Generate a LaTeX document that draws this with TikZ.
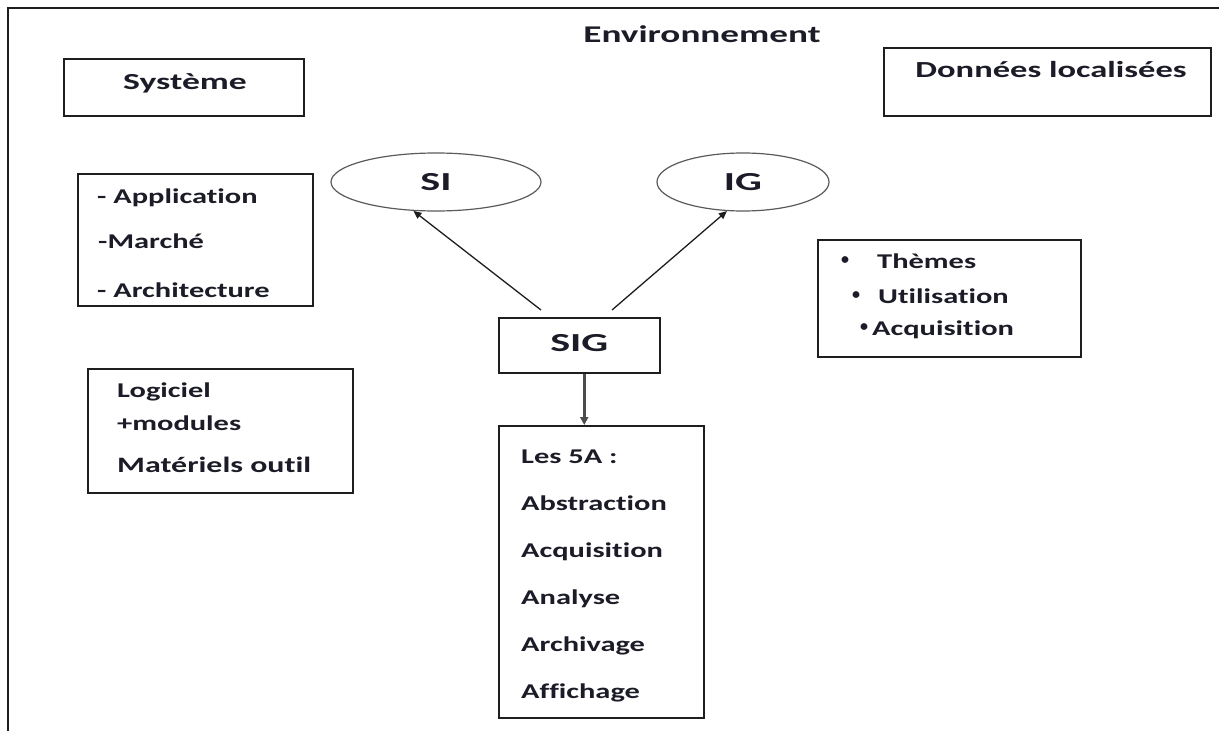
\documentclass[tikz,border=0pt]{standalone}
\usepackage{fontspec}
\usepackage{graphicx}
\setmainfont{Carlito}[Ligatures=NoCommon]
\usetikzlibrary{arrows.meta,shapes.geometric}
\definecolor{ink}{RGB}{28,28,40}
\definecolor{edge}{RGB}{30,30,30}
\definecolor{ell}{RGB}{90,90,90}
\newcommand{\wt}[1]{\scalebox{1.45}[1]{#1}}
\newcommand{\wh}[1]{\scalebox{1.55}[1]{#1}}
\newcommand{\wb}[1]{\scalebox{1.62}[1]{#1}}
\begin{document}
\begin{tikzpicture}[x=1pt,y=-1pt,
  box/.style={draw=edge, line width=1.5pt, inner sep=0pt, anchor=north west},
  txt/.style={inner sep=0pt, text=ink, font=\fontsize{21}{25}\selectfont\bfseries, anchor=base west},
  head/.style={inner sep=0pt, text=ink, font=\fontsize{23}{27}\selectfont\bfseries, anchor=base},
  big/.style={inner sep=0pt, text=ink, font=\fontsize{26}{30}\selectfont\bfseries},
  bul/.style={inner sep=0pt, text=ink, font=\fontsize{16}{18}\selectfont\bfseries},
  ellnode/.style={draw=ell, line width=1.2pt, ellipse, inner sep=0pt, minimum height=58pt},
  arr/.style={draw=edge, line width=1.3pt, -{Triangle[length=8pt,width=7pt]}},
  darr/.style={draw=black!70, line width=2.6pt, -{Triangle[length=8pt,width=8pt]}}
]
\useasboundingbox (0,0) rectangle (1219,731);
% outer frame
\draw[edge, line width=1.6pt] (8,731) -- (8,8) -- (1219,8);

\node[head, font=\fontsize{24}{28}\selectfont\bfseries] (env) at (702,42) {\wh{Environnement}};

% Systeme
\node[box, minimum width=240pt, minimum height=57pt] (sysbox) at (63,58) {};
\node[head] (systxt) at (185,89) {\wh{Système}};

% Application box
\node[box, minimum width=235pt, minimum height=132pt] (appbox) at (77,173) {};
\node[txt] (app1) at (97,203) {\wt{- Application}};
\node[txt] (app2) at (98,248) {\wt{-Marché}};
\node[txt] (app3) at (97,297) {\wt{- Architecture}};

% Logiciel box
\node[box, minimum width=265pt, minimum height=124pt] (logbox) at (87,368) {};
\node[txt] (log1) at (117,397) {\wt{Logiciel}};
\node[txt] (log2) at (117,430) {\wt{+modules}};
\node[txt, font=\fontsize{22}{26}\selectfont\bfseries] (log3) at (117,472) {\wt{Matériels outil}};

% Donnees localisees
\node[box, minimum width=327pt, minimum height=68pt] (donbox) at (883,47) {};
\node[head] (dontxt) at (1051,77) {\scalebox{1.5}[1]{Données localisées}};

% Themes box
\node[box, minimum width=263pt, minimum height=117pt] (thbox) at (817,239) {};
\node[bul] (b1) at (845,261) {•};
\node[bul] (b2) at (856,296) {•};
\node[bul] (b3) at (864,328) {•};
\node[txt] (th1) at (877,268) {\wt{Thèmes}};
\node[txt] (th2) at (878,303) {\wt{Utilisation}};
\node[txt] (th3) at (872,335) {\wt{Acquisition}};

% Ellipses
\node[ellnode, minimum width=210pt, big] (si) at (436,182) {\wb{SI}};
\node[ellnode, minimum width=172pt, big] (ig) at (743,182) {\wb{IG}};

% SIG
\node[box, minimum width=161pt, minimum height=55pt] (sig) at (498,317) {};
\node[big] (sigtxt) at ([yshift=2pt]sig.center) {\wb{SIG}};

% 5A box
\node[box, minimum width=205pt, minimum height=292pt] (five) at (498,425) {};
\node[txt] (f0) at (521,463) {\wt{Les 5A :}};
\node[txt] (f1) at (521,510) {\wt{Abstraction}};
\node[txt] (f2) at (521,557) {\wt{Acquisition}};
\node[txt] (f3) at (521,604) {\wt{Analyse}};
\node[txt] (f4) at (521,651) {\wt{Archivage}};
\node[txt] (f5) at (521,698) {\wt{Affichage}};

% connectors
\coordinate (sigL) at (541,310);
\coordinate (sigR) at (612,310);
\draw[arr] (sigL) -- (si.232);
\draw[arr] (sigR) -- (ig.241);
\draw[darr] ([xshift=5pt]sig.south) -- ([xshift=5pt]sig.south |- five.north);
\end{tikzpicture}
\end{document}
